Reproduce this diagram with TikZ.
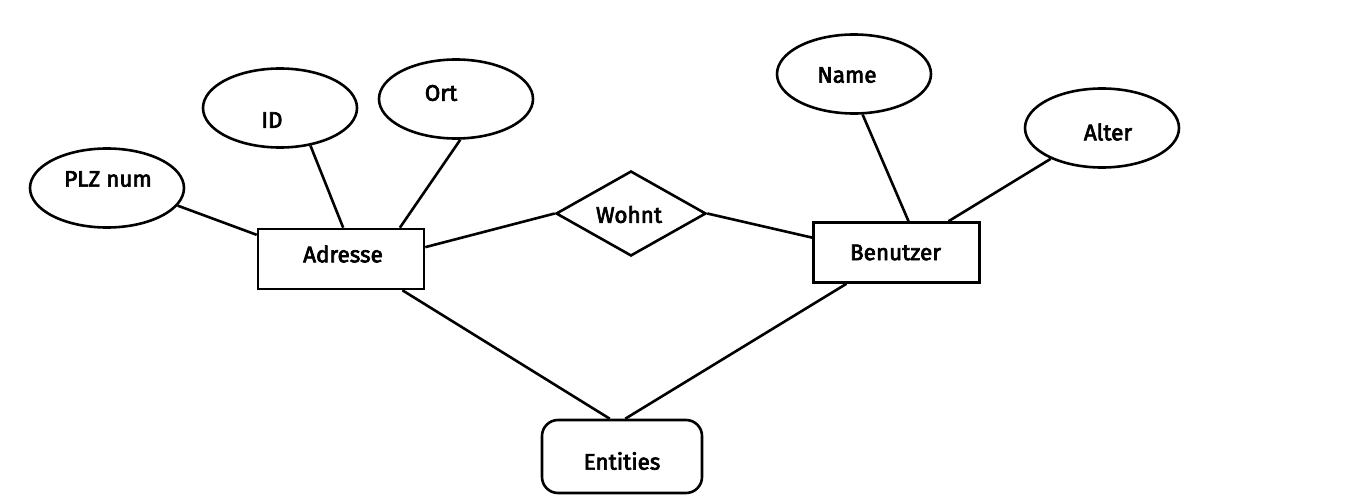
\documentclass[tikz,border=0pt]{standalone}
\usepackage{fontspec}
\newfontfamily\lblfont{Fira Sans}[FakeBold=3]
\usetikzlibrary{shapes.geometric}
\begin{document}
\begin{tikzpicture}[x=1pt,y=-1pt,line width=2.6pt,
  attr/.style={draw,ellipse,minimum width=154pt,minimum height=79pt,inner sep=0pt},
  ent/.style={draw,rectangle,minimum width=166pt,minimum height=60pt,inner sep=0pt},
  rel/.style={draw,diamond,minimum width=150pt,minimum height=85pt,inner sep=0pt},
  grp/.style={draw,rectangle,rounded corners=16pt,minimum width=160pt,minimum height=73pt,inner sep=0pt},
  lbl/.style={font=\lblfont\fontsize{22.5}{26}\selectfont,inner sep=0pt},
  conn/.style={line width=2.6pt}]
\useasboundingbox (0,0) rectangle (1360,500);
\node[attr,label={[lbl,xshift=1pt,yshift=9pt]center:PLZ num}] (plz) at (107,188) {};
\node[attr,label={[lbl,xshift=-8pt,yshift=-12pt]center:ID}] (id) at (280,108) {};
\node[attr,label={[lbl,xshift=-15pt,yshift=6pt]center:Ort}] (ort) at (456,99) {};
\node[attr,label={[lbl,xshift=-7pt,yshift=-1pt]center:Name}] (name) at (854,74) {};
\node[attr,label={[lbl,xshift=6pt,yshift=-4pt]center:Alter}] (alter) at (1102,128) {};
\node[ent,label={[lbl,xshift=2pt,yshift=5pt]center:Adresse}] (adr) at (341,259) {};
\node[ent,label={[lbl,xshift=-1pt]center:Benutzer}] (ben) at (896.5,252.5) {};
\node[rel,label={[lbl,xshift=-2pt,yshift=-1pt]center:Wohnt}] (wohnt) at (631,213.5) {};
\node[grp,label={[lbl,yshift=-4.5pt]center:Entities}] (entities) at (622,456.5) {};
\draw[conn] (plz.-14) -- (adr.164.5);
\draw[conn] (id.-51) -- (adr.86);
\draw[conn] (ort.-84) -- (adr.28.5);
\draw[conn] (adr.8.9) -- (wohnt.west);
\draw[conn] (wohnt.east) -- (ben.170.4);
\draw[conn] (name.-78.4) -- (ben.69.3);
\draw[conn] (alter.-149) -- (ben.31.6);
\draw[conn] (adr.-27.8) -- (entities.108.2);
\draw[conn] (ben.-148.4) -- (entities.85.3);
\end{tikzpicture}
\end{document}
